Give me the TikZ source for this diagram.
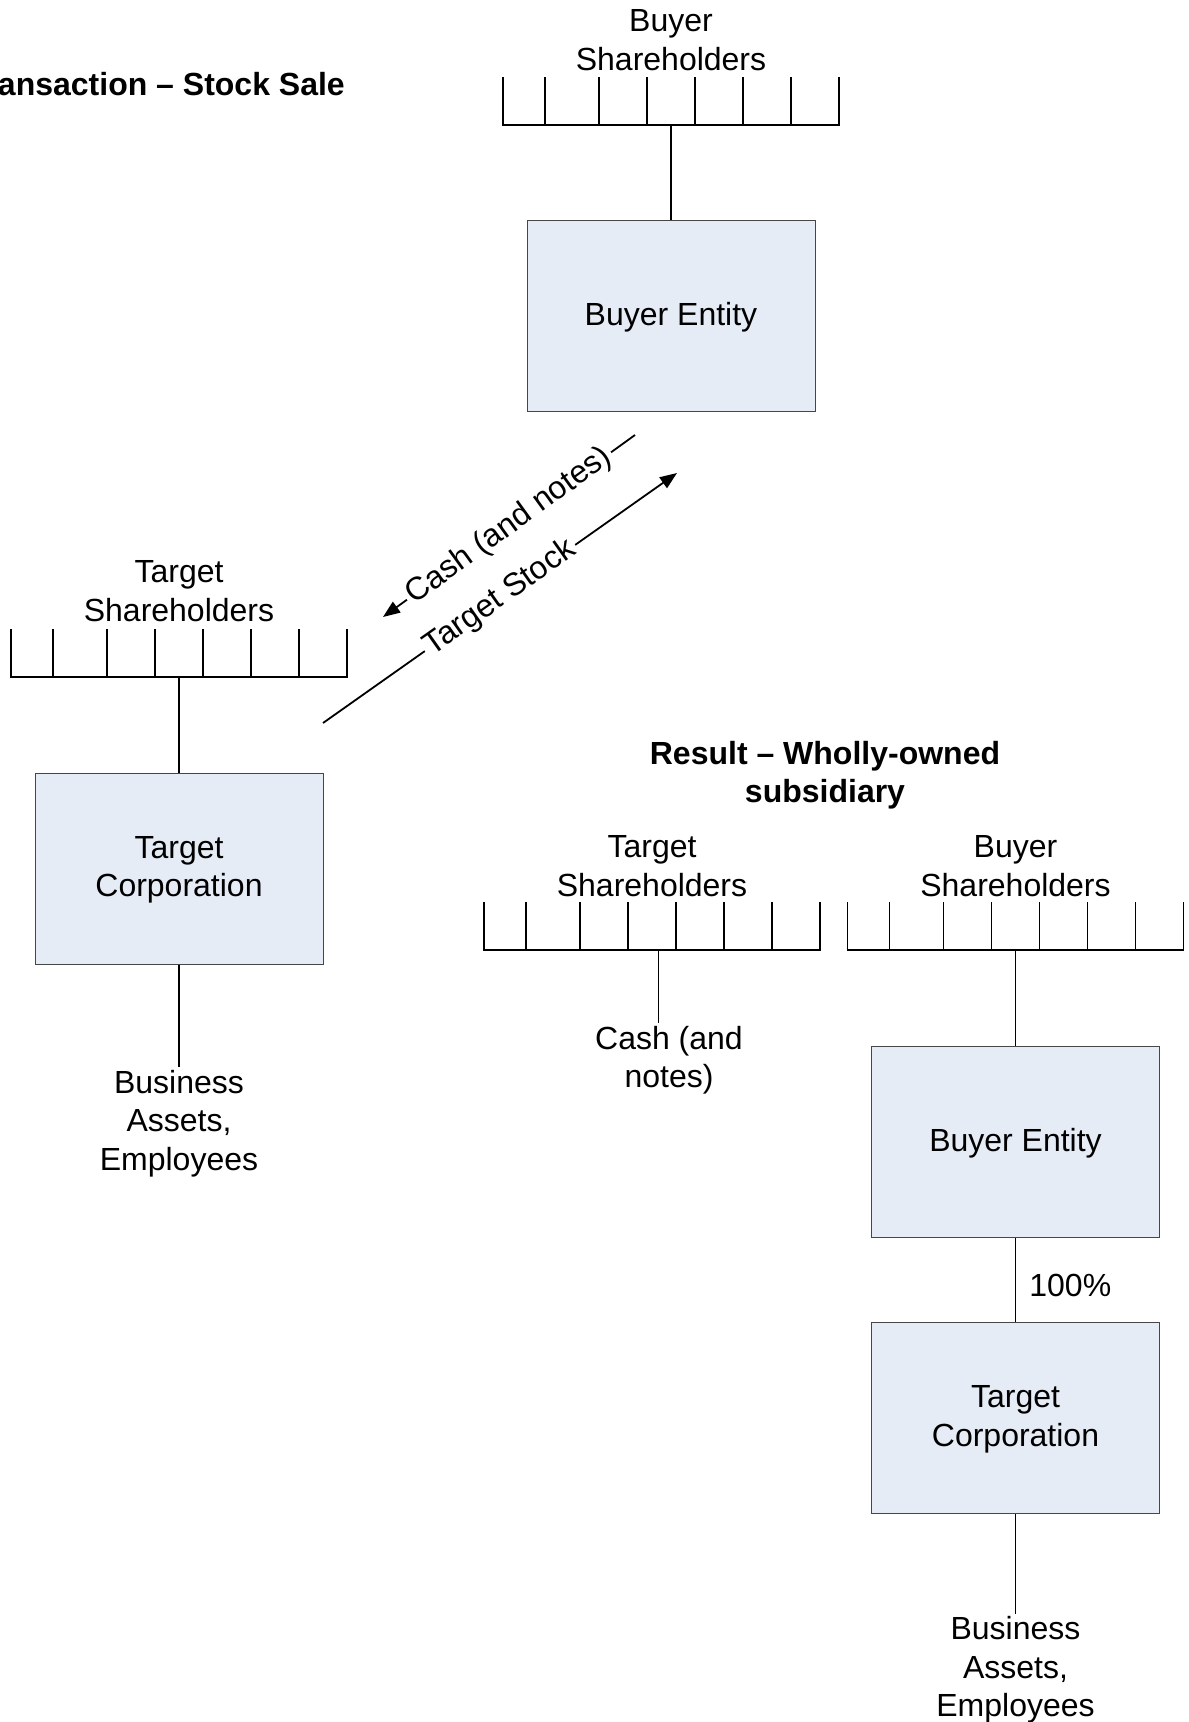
\documentclass[tikz,border=0pt]{standalone}
\usepackage{fontspec}
\setmainfont{Liberation Sans}
\usetikzlibrary{arrows.meta,positioning,calc}

\definecolor{entityfill}{RGB}{230,236,246}
\definecolor{entityline}{RGB}{70,70,70}

% shareholder bar, base centred at #2
\newcommand{\holderbar}[2]{%
  \coordinate (#1) at (#2);
  \draw[bar] ($(#1)+(-168,-48)$) -- ($(#1)+(-168,0)$) -- ($(#1)+(168,0)$) -- ++(0,-48);
  \foreach \pos in {42,96,144,192,240,288}
    \draw[bar] ($(#1)+(\pos-168,0)$) -- ++(0,-48);
}

\begin{document}
\begin{tikzpicture}[x=1pt,y=-1pt,>={Triangle[length=17pt,width=13pt]},
  every node/.style={font=\fontsize{32}{38.4}\selectfont,align=center,inner sep=3pt},
  heading/.style={font=\fontsize{32}{38.4}\selectfont\bfseries},
  entity/.style={draw=entityline,line width=1pt,fill=entityfill,
    minimum width=288pt,minimum height=191pt,text depth=4pt},
  bar/.style={line width=1.8pt},
  link/.style={line width=1.8pt}]
  \useasboundingbox (0,0) rectangle (1189,1722);

  % the sale
  \node[heading,anchor=east] (salehead) at (348,84) {ansaction – Stock Sale};

  \node (bshtext) at (671,40) {Buyer\\Shareholders};
  \holderbar{bsh}{671,125}
  \node[entity] (buyer) at (671,316) {Buyer Entity};
  \draw[link] (bsh) -- (buyer);

  \node (tshtext) at (179,591) {Target\\Shareholders};
  \holderbar{tsh}{179,677}
  \node[entity] (target) at (179,868.5) {Target\\Corporation};
  \node (assets) at (179,1123.5) {Business\\Assets,\\Employees};
  \draw[link] (tsh) -- (target);
  \draw[link] (target) -- (assets);

  \coordinate (cashfrom) at (635,435);
  \coordinate (cashto) at (383,617);
  \coordinate (stockfrom) at (323,723);
  \coordinate (stockto) at (677,473);
  \draw[link,->] (cashfrom) -- node[sloped,fill=white] {Cash (and notes)} (cashto);
  \draw[link,->] (stockfrom) -- node[sloped,fill=white] {Target Stock} (stockto);

  % after the sale
  \node[heading] (resulthead) at (825,775) {Result – Wholly-owned\\subsidiary};

  \node (tshtext2) at (652,866) {Target\\Shareholders};
  \holderbar{tsh2}{652,950}
  \coordinate (tsh2stem) at ([xshift=6.5pt]tsh2);
  \node (cash2) at (669,1060.5) {Cash (and\\notes)};
  \draw[link] (tsh2stem) -- (tsh2stem |- cash2.north);

  \node (bshtext2) at (1015.5,866) {Buyer\\Shareholders};
  \holderbar{bsh2}{1015.5,950}
  \node[entity] (buyer2) at (1015.5,1142) {Buyer Entity};
  \node[entity] (target2) at (1015.5,1418) {Target\\Corporation};
  \node (assets2) at (1015.5,1670) {Business\\Assets,\\Employees};
  \draw[link] (bsh2) -- (buyer2);
  \path[link] (buyer2) edge node[right=10pt,yshift=-5pt] {100\%} (target2);
  \draw[link] (target2) -- (assets2);
\end{tikzpicture}
\end{document}
